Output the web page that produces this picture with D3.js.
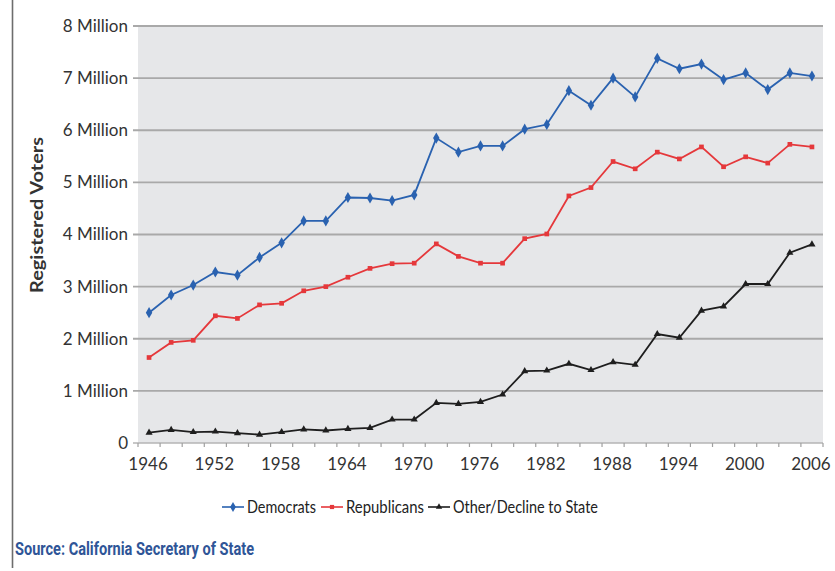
<!DOCTYPE html>
<html>
<head>
<meta charset="utf-8">
<script src="https://cdn.jsdelivr.net/npm/d3@7"></script>
<style>
  html, body { margin: 0; padding: 0; background: #fff; }
  svg { display: block; }
</style>
</head>
<body>
<svg id="chart" width="835" height="571"></svg>
<script>
const years = [1946,1948,1950,1952,1954,1956,1958,1960,1962,1964,1966,1968,1970,1972,1974,1976,1978,1980,1982,1984,1986,1988,1990,1992,1994,1996,1998,2000,2002,2004,2006];
const democrats = [2.50,2.84,3.03,3.28,3.22,3.56,3.84,4.26,4.26,4.71,4.70,4.65,4.76,5.85,5.58,5.70,5.70,6.02,6.11,6.76,6.48,7.00,6.64,7.38,7.18,7.27,6.97,7.10,6.78,7.10,7.04];
const republicans = [1.64,1.93,1.97,2.44,2.39,2.65,2.68,2.92,3.00,3.18,3.35,3.44,3.45,3.82,3.58,3.45,3.45,3.92,4.01,4.74,4.90,5.40,5.26,5.58,5.45,5.68,5.30,5.49,5.37,5.73,5.68];
const other = [0.20,0.25,0.21,0.22,0.19,0.16,0.21,0.26,0.24,0.27,0.29,0.45,0.45,0.77,0.75,0.79,0.93,1.38,1.39,1.52,1.40,1.55,1.50,2.09,2.02,2.54,2.62,3.05,3.05,3.65,3.81];
const yTicks = [0,1,2,3,4,5,6,7,8];
const xLabelYears = [1946,1952,1958,1964,1970,1976,1982,1988,1994,2000,2006];
const seriesNames = ["Democrats","Republicans","Other/Decline to State"];
const seriesColors = ["#2a62b0","#e5383b","#1e1e1e"];
const seriesSymbols = [d3.symbolDiamond, d3.symbolSquare, d3.symbolTriangle];
const seriesSizes = [36, 22, 22];
const series = [democrats, republicans, other];
const sourceText = "Source: California Secretary of State";
const yTitle = "Registered Voters";

const svg = d3.select("#chart");
const L = 138, R = 823, T = 26, B = 443;
const x = d3.scaleBand().domain(years).range([L, R]).padding(0);
const y = d3.scaleLinear().domain([0, 8]).range([B, T]);
const font = "Lato, 'Open Sans', sans-serif";

// left border line
svg.append("line").attr("x1", 12.5).attr("x2", 12.5).attr("y1", 0).attr("y2", 568)
  .attr("stroke", "#6d6d6d").attr("stroke-width", 1.6);

// plot background
svg.append("rect").attr("x", L).attr("y", T).attr("width", R - L).attr("height", B - T)
  .attr("fill", "#e6e7e9");

// gridlines
svg.append("g").selectAll("line").data(yTicks.filter(d => d > 0)).join("line")
  .attr("x1", L - 5).attr("x2", R).attr("y1", d => y(d)).attr("y2", d => y(d))
  .attr("stroke", "#a9a9a9").attr("stroke-width", 1.8);

// y labels
svg.append("g").selectAll("text").data(yTicks).join("text")
  .attr("x", 128).attr("y", d => y(d)).attr("dy", "0.35em")
  .attr("text-anchor", "end").attr("font-family", font).attr("font-size", 17)
  .attr("fill", "#333")
  .text(d => d === 0 ? "0" : d + " Million");

// x axis
const xAxisG = svg.append("g");
xAxisG.append("line").attr("x1", L - 5).attr("x2", R).attr("y1", B).attr("y2", B)
  .attr("stroke", "#b5b5b5").attr("stroke-width", 1.5);
const boundaries = years.map(d => x(d)).concat([R]);
xAxisG.selectAll("line.tick").data(boundaries).join("line").attr("class", "tick")
  .attr("x1", d => d).attr("x2", d => d).attr("y1", B).attr("y2", B + 4)
  .attr("stroke", "#a0a0a0").attr("stroke-width", 1.2);
xAxisG.selectAll("text").data(xLabelYears).join("text")
  .attr("x", d => x(d) + x.bandwidth() / 2 - 1).attr("y", 470)
  .attr("text-anchor", "middle").attr("font-family", font).attr("font-size", 17)
  .attr("fill", "#333").text(d => d);

// y title
svg.append("text").attr("transform", "translate(43,215) rotate(-90)")
  .attr("text-anchor", "middle").attr("font-family", font).attr("font-size", 16.5)
  .attr("font-weight", "bold").attr("fill", "#333")
  .attr("textLength", 156).attr("lengthAdjust", "spacingAndGlyphs").text(yTitle);

// series
const line = d3.line().x((d, i) => x(years[i]) + x.bandwidth() / 2).y(d => y(d));
series.forEach((vals, s) => {
  const g = svg.append("g");
  g.append("path").datum(vals).attr("d", line).attr("fill", "none")
    .attr("stroke", seriesColors[s]).attr("stroke-width", 1.8);
  g.selectAll("path.pt").data(vals).join("path").attr("class", "pt")
    .attr("transform", (d, i) => `translate(${x(years[i]) + x.bandwidth() / 2},${y(d)})`)
    .attr("d", d3.symbol().type(seriesSymbols[s]).size(seriesSizes[s]))
    .attr("fill", seriesColors[s]);
});

// legend
const legendX = [222, 321, 428];
const legendW = [69, 78, 145];
const legend = svg.append("g");
seriesNames.forEach((name, s) => {
  const lg = legend.append("g").attr("transform", `translate(${legendX[s]},507)`);
  lg.append("line").attr("x1", 0).attr("x2", 22).attr("y1", 0).attr("y2", 0)
    .attr("stroke", seriesColors[s]).attr("stroke-width", 1.6);
  lg.append("path").attr("transform", "translate(11,0)")
    .attr("d", d3.symbol().type(seriesSymbols[s]).size(seriesSizes[s] * 0.8))
    .attr("fill", seriesColors[s]);
  lg.append("text").attr("x", 25).attr("y", 0).attr("dy", "0.36em")
    .attr("font-family", font).attr("font-size", 17.5).attr("fill", "#222")
    .attr("textLength", legendW[s]).attr("lengthAdjust", "spacingAndGlyphs").text(name);
});

// source
svg.append("text").attr("x", 15).attr("y", 555)
  .attr("font-family", "Roboto, 'Liberation Sans', sans-serif")
  .attr("font-size", 17.5).attr("font-weight", "bold").attr("fill", "#2f5597")
  .attr("textLength", 239).attr("lengthAdjust", "spacingAndGlyphs")
  .text(sourceText);
</script>
</body>
</html>
